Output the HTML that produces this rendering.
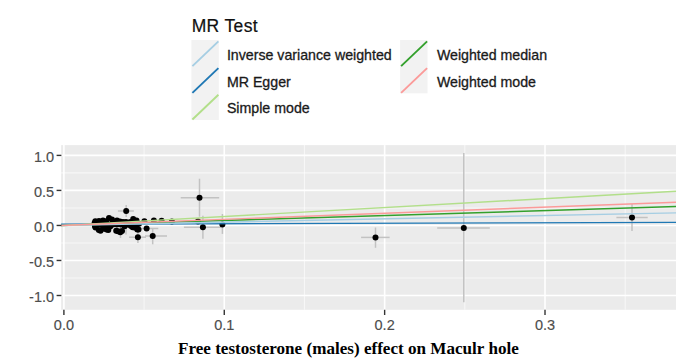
<!DOCTYPE html><html><head><meta charset="utf-8"><style>html,body{margin:0;padding:0;background:#fff;width:685px;height:361px;overflow:hidden}svg{display:block}text{font-family:"Liberation Sans",sans-serif}.w{stroke-width:0.3px;paint-order:fill}</style></head><body>
<svg width="685" height="361" viewBox="0 0 685 361">
<text x="191.7" y="31.7" letter-spacing="0.35" font-size="17.5" fill="#111" stroke="#111" stroke-width="0.2">MR Test</text>
<rect x="191.4" y="40" width="27.4" height="80" fill="#f2f2f2"/>
<rect x="400.1" y="40" width="27.4" height="53.33" fill="#f2f2f2"/>
<line x1="192.40" y1="66.17" x2="218.40" y2="41.40" stroke="#a6cee3" stroke-width="1.9"/>
<text x="226.9" y="60.30" font-size="14.2" fill="#1a1a1a" stroke="#1a1a1a" class="w">Inverse variance weighted</text>
<line x1="192.40" y1="92.84" x2="218.40" y2="68.07" stroke="#1f78b4" stroke-width="1.9"/>
<text x="226.9" y="86.75" font-size="14.2" fill="#1a1a1a" stroke="#1a1a1a" class="w">MR Egger</text>
<line x1="192.40" y1="119.50" x2="218.40" y2="94.73" stroke="#b2df8a" stroke-width="1.9"/>
<text x="226.9" y="113.20" font-size="14.2" fill="#1a1a1a" stroke="#1a1a1a" class="w">Simple mode</text>
<line x1="401.10" y1="66.17" x2="427.10" y2="41.40" stroke="#33a02c" stroke-width="1.9"/>
<text x="436.9" y="60.30" font-size="14.2" fill="#1a1a1a" stroke="#1a1a1a" class="w">Weighted median</text>
<line x1="401.10" y1="92.84" x2="427.10" y2="68.07" stroke="#fb9a99" stroke-width="1.9"/>
<text x="436.9" y="86.75" font-size="14.2" fill="#1a1a1a" stroke="#1a1a1a" class="w">Weighted mode</text>
<rect x="61.1" y="145.1" width="614.9" height="164.7" fill="#ebebeb"/>
<line x1="144.09" y1="145.1" x2="144.09" y2="309.8" stroke="#fff" stroke-width="1.1" stroke-opacity="0.6"/>
<line x1="304.45" y1="145.1" x2="304.45" y2="309.8" stroke="#fff" stroke-width="1.1" stroke-opacity="0.6"/>
<line x1="464.82" y1="145.1" x2="464.82" y2="309.8" stroke="#fff" stroke-width="1.1" stroke-opacity="0.6"/>
<line x1="625.19" y1="145.1" x2="625.19" y2="309.8" stroke="#fff" stroke-width="1.1" stroke-opacity="0.6"/>
<line x1="61.1" y1="172.91" x2="676.0" y2="172.91" stroke="#fff" stroke-width="1.1" stroke-opacity="0.6"/>
<line x1="61.1" y1="207.94" x2="676.0" y2="207.94" stroke="#fff" stroke-width="1.1" stroke-opacity="0.6"/>
<line x1="61.1" y1="242.96" x2="676.0" y2="242.96" stroke="#fff" stroke-width="1.1" stroke-opacity="0.6"/>
<line x1="61.1" y1="277.99" x2="676.0" y2="277.99" stroke="#fff" stroke-width="1.1" stroke-opacity="0.6"/>
<line x1="63.90" y1="145.1" x2="63.90" y2="309.8" stroke="#fff" stroke-width="1.6"/>
<line x1="224.27" y1="145.1" x2="224.27" y2="309.8" stroke="#fff" stroke-width="1.6"/>
<line x1="384.64" y1="145.1" x2="384.64" y2="309.8" stroke="#fff" stroke-width="1.6"/>
<line x1="545.01" y1="145.1" x2="545.01" y2="309.8" stroke="#fff" stroke-width="1.6"/>
<line x1="61.1" y1="155.40" x2="676.0" y2="155.40" stroke="#fff" stroke-width="1.6"/>
<line x1="61.1" y1="190.42" x2="676.0" y2="190.42" stroke="#fff" stroke-width="1.6"/>
<line x1="61.1" y1="225.45" x2="676.0" y2="225.45" stroke="#fff" stroke-width="1.6"/>
<line x1="61.1" y1="260.47" x2="676.0" y2="260.47" stroke="#fff" stroke-width="1.6"/>
<line x1="61.1" y1="295.50" x2="676.0" y2="295.50" stroke="#fff" stroke-width="1.6"/>
<line x1="117.9" y1="211.0" x2="133.9" y2="211.0" stroke="#c2c2c2" stroke-width="1.5"/>
<line x1="126.2" y1="205" x2="126.2" y2="217" stroke="#c2c2c2" stroke-width="1.5"/>
<line x1="180.7" y1="197.7" x2="219.2" y2="197.7" stroke="#c2c2c2" stroke-width="1.5"/>
<line x1="199.5" y1="178.7" x2="199.5" y2="216.7" stroke="#c2c2c2" stroke-width="1.5"/>
<line x1="183.9" y1="227.3" x2="221" y2="227.3" stroke="#c2c2c2" stroke-width="1.5"/>
<line x1="202.9" y1="215.8" x2="202.9" y2="238.8" stroke="#c2c2c2" stroke-width="1.5"/>
<line x1="222.4" y1="214" x2="222.4" y2="233.9" stroke="#c2c2c2" stroke-width="1.5"/>
<line x1="361.1" y1="237.4" x2="389.6" y2="237.4" stroke="#c2c2c2" stroke-width="1.5"/>
<line x1="375.5" y1="227.5" x2="375.5" y2="247.8" stroke="#c2c2c2" stroke-width="1.5"/>
<line x1="437.2" y1="228.05" x2="489.8" y2="228.05" stroke="#c2c2c2" stroke-width="1.5"/>
<line x1="463.8" y1="153.1" x2="463.8" y2="302.2" stroke="#c2c2c2" stroke-width="1.5"/>
<line x1="616.4" y1="217.5" x2="647.7" y2="217.5" stroke="#c2c2c2" stroke-width="1.5"/>
<line x1="632" y1="204.1" x2="632" y2="231" stroke="#c2c2c2" stroke-width="1.5"/>
<line x1="140" y1="228.5" x2="158.3" y2="228.5" stroke="#c2c2c2" stroke-width="1.5"/>
<line x1="145" y1="236" x2="167" y2="236" stroke="#c2c2c2" stroke-width="1.5"/>
<line x1="152.7" y1="228" x2="152.7" y2="244.3" stroke="#c2c2c2" stroke-width="1.5"/>
<line x1="129" y1="237.2" x2="146" y2="237.2" stroke="#c2c2c2" stroke-width="1.5"/>
<line x1="137.9" y1="231" x2="137.9" y2="243" stroke="#c2c2c2" stroke-width="1.5"/>
<line x1="126" y1="221" x2="126" y2="234.5" stroke="#c2c2c2" stroke-width="1.5"/>
<line x1="120.5" y1="226" x2="120.5" y2="238" stroke="#c2c2c2" stroke-width="1.5"/>
<circle cx="126.2" cy="211.0" r="3.0" fill="#000"/>
<circle cx="94.6" cy="223.0" r="3.0" fill="#000"/>
<circle cx="95.3" cy="221.3" r="3.0" fill="#000"/>
<circle cx="99" cy="220.9" r="3.0" fill="#000"/>
<circle cx="103" cy="220.5" r="3.0" fill="#000"/>
<circle cx="106" cy="221.3" r="3.0" fill="#000"/>
<circle cx="109" cy="218.1" r="3.0" fill="#000"/>
<circle cx="112" cy="219.6" r="3.0" fill="#000"/>
<circle cx="114.5" cy="222.3" r="3.0" fill="#000"/>
<circle cx="117" cy="220.4" r="3.0" fill="#000"/>
<circle cx="120" cy="221.5" r="3.0" fill="#000"/>
<circle cx="123" cy="222" r="3.0" fill="#000"/>
<circle cx="126" cy="222" r="3.0" fill="#000"/>
<circle cx="128.5" cy="222.8" r="3.0" fill="#000"/>
<circle cx="130.5" cy="222" r="3.0" fill="#000"/>
<circle cx="133.2" cy="219" r="3.0" fill="#000"/>
<circle cx="136.5" cy="220.5" r="3.0" fill="#000"/>
<circle cx="139" cy="223.7" r="3.0" fill="#000"/>
<circle cx="144.4" cy="221.2" r="3.0" fill="#000"/>
<circle cx="153.9" cy="220.6" r="3.0" fill="#000"/>
<circle cx="161.6" cy="220.7" r="3.0" fill="#000"/>
<circle cx="171.9" cy="221.6" r="3.0" fill="#000"/>
<circle cx="94.8" cy="224.6" r="3.0" fill="#000"/>
<circle cx="97" cy="224.5" r="3.0" fill="#000"/>
<circle cx="101" cy="224.5" r="3.0" fill="#000"/>
<circle cx="105" cy="224.5" r="3.0" fill="#000"/>
<circle cx="109" cy="224.5" r="3.0" fill="#000"/>
<circle cx="113" cy="224.5" r="3.0" fill="#000"/>
<circle cx="117" cy="224.5" r="3.0" fill="#000"/>
<circle cx="121" cy="224.5" r="3.0" fill="#000"/>
<circle cx="125" cy="224.5" r="3.0" fill="#000"/>
<circle cx="129" cy="224.5" r="3.0" fill="#000"/>
<circle cx="133" cy="224.5" r="3.0" fill="#000"/>
<circle cx="137" cy="224.5" r="3.0" fill="#000"/>
<circle cx="95" cy="226.3" r="3.0" fill="#000"/>
<circle cx="95.5" cy="227.5" r="3.0" fill="#000"/>
<circle cx="98.8" cy="230" r="3.0" fill="#000"/>
<circle cx="100.5" cy="230.8" r="3.0" fill="#000"/>
<circle cx="103" cy="228.7" r="3.0" fill="#000"/>
<circle cx="106.5" cy="229.5" r="3.0" fill="#000"/>
<circle cx="108.3" cy="229.9" r="3.0" fill="#000"/>
<circle cx="110.2" cy="226.6" r="3.0" fill="#000"/>
<circle cx="116.2" cy="230.8" r="3.0" fill="#000"/>
<circle cx="118" cy="231.2" r="3.0" fill="#000"/>
<circle cx="120.3" cy="232.2" r="3.0" fill="#000"/>
<circle cx="122" cy="231" r="3.0" fill="#000"/>
<circle cx="124.6" cy="226.2" r="3.0" fill="#000"/>
<circle cx="128" cy="224.6" r="3.0" fill="#000"/>
<circle cx="131" cy="226" r="3.0" fill="#000"/>
<circle cx="132.6" cy="227.3" r="3.0" fill="#000"/>
<circle cx="134.5" cy="227.6" r="3.0" fill="#000"/>
<circle cx="137.3" cy="229.5" r="3.0" fill="#000"/>
<circle cx="138.5" cy="229.5" r="3.0" fill="#000"/>
<circle cx="137.9" cy="237.2" r="3.0" fill="#000"/>
<circle cx="146.6" cy="228.5" r="3.0" fill="#000"/>
<circle cx="152.7" cy="236" r="3.0" fill="#000"/>
<circle cx="199.5" cy="197.7" r="3.0" fill="#000"/>
<circle cx="202.9" cy="227.3" r="3.0" fill="#000"/>
<circle cx="222.4" cy="224.4" r="3.0" fill="#000"/>
<circle cx="198" cy="221.5" r="3.0" fill="#000"/>
<circle cx="375.5" cy="237.4" r="3.0" fill="#000"/>
<circle cx="463.8" cy="228.05" r="3.0" fill="#000"/>
<circle cx="632" cy="217.5" r="3.0" fill="#000"/>
<line x1="61.1" y1="224.20" x2="676.0" y2="222.40" stroke="#1f78b4" stroke-width="1.45"/>
<line x1="61.1" y1="225.54" x2="676.0" y2="206.57" stroke="#33a02c" stroke-width="1.45"/>
<line x1="61.1" y1="225.51" x2="676.0" y2="212.88" stroke="#a6cee3" stroke-width="1.45"/>
<line x1="61.1" y1="225.61" x2="676.0" y2="191.34" stroke="#b2df8a" stroke-width="1.45"/>
<line x1="61.1" y1="225.56" x2="676.0" y2="202.16" stroke="#fb9a99" stroke-width="1.45"/>
<line x1="56.6" y1="155.40" x2="61.4" y2="155.40" stroke="#333" stroke-width="1.4"/>
<line x1="56.6" y1="190.42" x2="61.4" y2="190.42" stroke="#333" stroke-width="1.4"/>
<line x1="56.6" y1="225.45" x2="61.4" y2="225.45" stroke="#333" stroke-width="1.4"/>
<line x1="56.6" y1="260.47" x2="61.4" y2="260.47" stroke="#333" stroke-width="1.4"/>
<line x1="56.6" y1="295.50" x2="61.4" y2="295.50" stroke="#333" stroke-width="1.4"/>
<line x1="63.90" y1="309.8" x2="63.90" y2="315.0" stroke="#333" stroke-width="1.4"/>
<line x1="224.27" y1="309.8" x2="224.27" y2="315.0" stroke="#333" stroke-width="1.4"/>
<line x1="384.64" y1="309.8" x2="384.64" y2="315.0" stroke="#333" stroke-width="1.4"/>
<line x1="545.01" y1="309.8" x2="545.01" y2="315.0" stroke="#333" stroke-width="1.4"/>
<text x="54.1" y="161.70" font-size="14.5" fill="#4d4d4d" stroke="#4d4d4d" stroke-width="0.15" text-anchor="end">1.0</text>
<text x="54.1" y="196.72" font-size="14.5" fill="#4d4d4d" stroke="#4d4d4d" stroke-width="0.15" text-anchor="end">0.5</text>
<text x="54.1" y="231.75" font-size="14.5" fill="#4d4d4d" stroke="#4d4d4d" stroke-width="0.15" text-anchor="end">0.0</text>
<text x="54.1" y="266.77" font-size="14.5" fill="#4d4d4d" stroke="#4d4d4d" stroke-width="0.15" text-anchor="end">-0.5</text>
<text x="54.1" y="301.80" font-size="14.5" fill="#4d4d4d" stroke="#4d4d4d" stroke-width="0.15" text-anchor="end">-1.0</text>
<text x="63.90" y="329.6" font-size="14.5" fill="#4d4d4d" stroke="#4d4d4d" stroke-width="0.15" text-anchor="middle">0.0</text>
<text x="224.27" y="329.6" font-size="14.5" fill="#4d4d4d" stroke="#4d4d4d" stroke-width="0.15" text-anchor="middle">0.1</text>
<text x="384.64" y="329.6" font-size="14.5" fill="#4d4d4d" stroke="#4d4d4d" stroke-width="0.15" text-anchor="middle">0.2</text>
<text x="545.01" y="329.6" font-size="14.5" fill="#4d4d4d" stroke="#4d4d4d" stroke-width="0.15" text-anchor="middle">0.3</text>
<text x="178" y="353.5" font-size="17.1" font-weight="bold" fill="#000" style="font-family:'Liberation Serif',serif">Free testosterone (males) effect on Maculr hole</text>
</svg></body></html>
